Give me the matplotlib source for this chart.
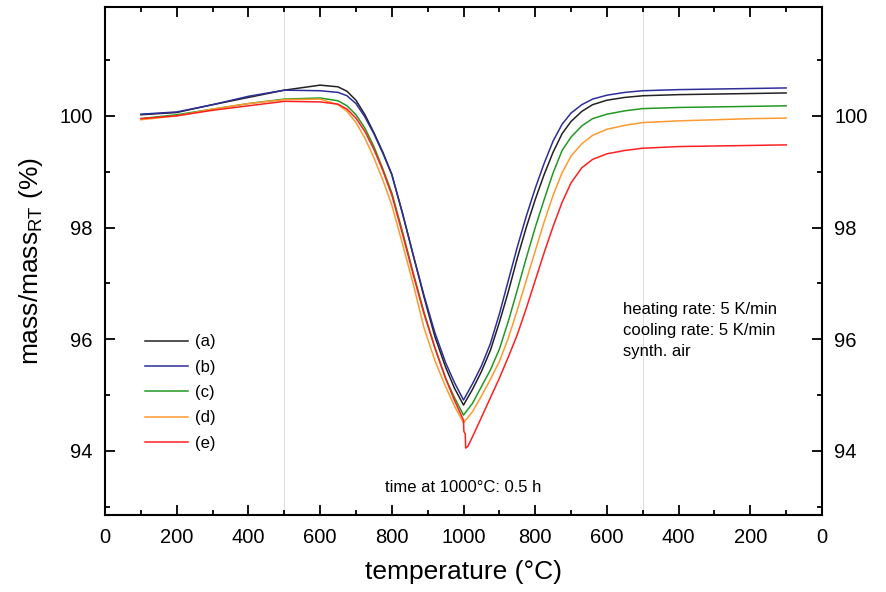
import numpy as np
import matplotlib.pyplot as plt
from matplotlib.ticker import MultipleLocator, FixedLocator, FixedFormatter

plt.rcParams['font.family'] = ['Liberation Sans', 'DejaVu Sans']

# position along the heating/cooling cycle: 0..1000 heating, 1000..2000 cooling (T = 2000 - pos)
pos = [100, 200, 300, 400, 500, 600, 650, 675, 700, 725, 750, 775, 800, 830, 860,
       890, 920, 950, 975, 1000, 1025, 1050, 1075, 1100, 1125, 1150, 1175, 1200,
       1225, 1250, 1275, 1300, 1330, 1360, 1400, 1450, 1500, 1600, 1700, 1800, 1900]

mass_a = [100.02, 100.06, 100.20, 100.33, 100.46, 100.55, 100.52, 100.44, 100.28, 100.02,
          99.70, 99.35, 98.95, 98.25, 97.50, 96.75, 96.05, 95.50, 95.12, 94.82,
          95.10, 95.42, 95.80, 96.30, 96.85, 97.45, 98.00, 98.50, 98.95, 99.35,
          99.68, 99.90, 100.08, 100.20, 100.28, 100.33, 100.36, 100.38, 100.39, 100.40, 100.41]
mass_b = [100.03, 100.07, 100.20, 100.35, 100.46, 100.45, 100.42, 100.36, 100.22, 99.98,
          99.68, 99.33, 98.95, 98.25, 97.50, 96.78, 96.12, 95.58, 95.22, 94.91,
          95.20, 95.52, 95.92, 96.45, 97.05, 97.65, 98.20, 98.70, 99.15, 99.55,
          99.85, 100.05, 100.20, 100.30, 100.37, 100.42, 100.45, 100.47, 100.48, 100.49, 100.50]
mass_c = [99.95, 100.02, 100.12, 100.22, 100.30, 100.32, 100.27, 100.18, 100.02, 99.78,
          99.45, 99.05, 98.62, 97.92, 97.18, 96.48, 95.85, 95.30, 94.95, 94.64,
          94.85, 95.15, 95.45, 95.82, 96.32, 96.88, 97.45, 98.00, 98.50, 98.98,
          99.38, 99.62, 99.82, 99.95, 100.03, 100.09, 100.13, 100.15, 100.16, 100.17, 100.18]
mass_d = [99.93, 100.00, 100.12, 100.22, 100.29, 100.30, 100.20, 100.08, 99.88, 99.60,
          99.25, 98.85, 98.40, 97.70, 96.98, 96.20, 95.62, 95.15, 94.80, 94.50,
          94.70, 94.98, 95.28, 95.60, 96.02, 96.52, 97.05, 97.58, 98.10, 98.58,
          98.98, 99.28, 99.50, 99.65, 99.76, 99.83, 99.88, 99.91, 99.93, 99.95, 99.96]

pos_e = [100, 200, 300, 400, 500, 600, 650, 675, 700, 725, 750, 775, 800, 830, 860,
         890, 920, 950, 975, 1000, 1001, 1005, 1006, 1012, 1025, 1050, 1075, 1100,
         1125, 1150, 1175, 1200, 1225, 1250, 1275, 1300, 1330, 1360, 1400, 1450,
         1500, 1600, 1700, 1800, 1900]
mass_e = [99.95, 100.00, 100.10, 100.18, 100.26, 100.25, 100.21, 100.12, 99.96, 99.72,
          99.40, 99.02, 98.58, 97.88, 97.15, 96.45, 95.85, 95.30, 94.90, 94.55,
          94.35, 94.30, 94.05, 94.08, 94.25, 94.60, 94.95, 95.30, 95.68, 96.08,
          96.55, 97.05, 97.55, 98.02, 98.45, 98.80, 99.07, 99.22, 99.32, 99.38,
          99.42, 99.45, 99.46, 99.47, 99.48]

labels = ['(a)', '(b)', '(c)', '(d)', '(e)']
colors = ['#222222', '#2e2e9a', '#229922', '#ff9a30', '#ff2020']

tick_pos = [0, 200, 400, 600, 800, 1000, 1200, 1400, 1600, 1800, 2000]
tick_lab = ['0', '200', '400', '600', '800', '1000', '800', '600', '400', '200', '0']

fig = plt.figure(figsize=(8.87, 5.92), dpi=100)
ax = fig.add_axes([0.1184, 0.130, 0.8083, 0.8582])

ax.axvline(500, color='#dddddd', linewidth=0.8, zorder=0)
ax.axvline(1500, color='#dddddd', linewidth=0.8, zorder=0)

series = [(pos, mass_a), (pos, mass_b), (pos, mass_c), (pos, mass_d), (pos_e, mass_e)]
for (x, y), lab, col in zip(series, labels, colors):
    ax.plot(x, y, color=col, linewidth=1.1, label=lab)

ax.set_xlim(0, 2000)
ax.set_ylim(92.85, 101.95)
ax.xaxis.set_major_locator(FixedLocator(tick_pos))
ax.xaxis.set_major_formatter(FixedFormatter(tick_lab))
ax.xaxis.set_minor_locator(MultipleLocator(100))
ax.yaxis.set_major_locator(FixedLocator([94, 96, 98, 100]))
ax.yaxis.set_minor_locator(FixedLocator([93, 95, 97, 99, 101]))

ax.tick_params(which='both', direction='in', top=True, right=True,
               labelright=True, labelsize=14.5, width=1.3)
ax.tick_params(which='major', length=7, pad=9)
ax.tick_params(which='minor', length=3.5)
for s in ax.spines.values():
    s.set_linewidth(1.5)

ax.set_xlabel('temperature (°C)', fontsize=19, labelpad=10)
ax.set_ylabel('mass/mass$_{\\mathregular{RT}}$ (%)', fontsize=19, labelpad=10)

ax.text(1000, 93.34, 'time at 1000°C: 0.5 h', ha='center', va='center', fontsize=12)
ax.text(0.722, 0.364, 'heating rate: 5 K/min\ncooling rate: 5 K/min\nsynth. air',
        transform=ax.transAxes, ha='left', va='center', fontsize=12, linespacing=1.5)

ax.legend(loc='upper left', bbox_to_anchor=(0.035, 0.385), frameon=False,
          fontsize=12, handlelength=2.6, handletextpad=0.4, labelspacing=0.62)

fig.savefig('out.png', dpi=100)
